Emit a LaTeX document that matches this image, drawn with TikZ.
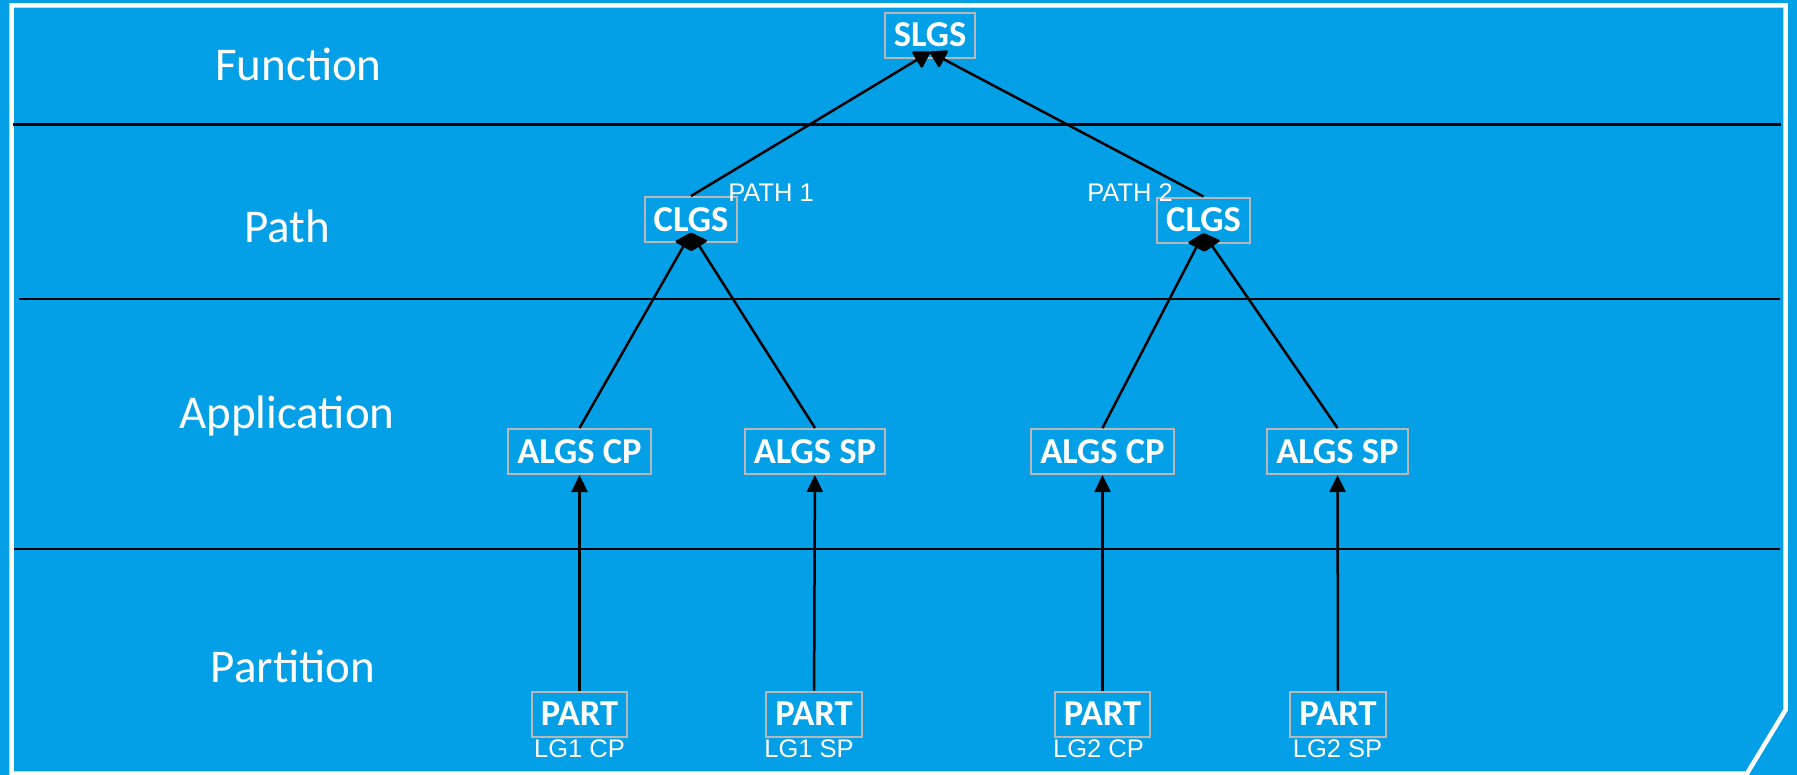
\documentclass[tikz,border=0pt]{standalone}
\usepackage{fontspec}
\setmainfont{Carlito}
\newfontfamily\arialfont{Liberation Sans}
\usetikzlibrary{arrows.meta}
\definecolor{bgblue}{RGB}{3,160,232}
\definecolor{boxgray}{RGB}{184,184,184}

\begin{document}
\begin{tikzpicture}[x=1bp,y=-1bp,
  box/.style={draw=boxgray, line width=2bp, text=white,
    font=\fontsize{36.5bp}{40bp}\selectfont\bfseries,
    minimum height=45bp, inner xsep=9bp, inner ysep=0pt,
    text height=23bp, text depth=0bp},
  layer/.style={text=white, font=\fontsize{47bp}{52bp}\selectfont,
    inner sep=0pt, text height=30bp, text depth=0bp},
  tag/.style={text=white, font=\arialfont\fontsize{25.5bp}{28bp}\selectfont,
    inner sep=0pt, text height=18bp, text depth=0bp},
  rule/.style={line width=2.7bp, black},
  arr/.style={line width=2.5bp, -{Triangle[length=17bp,width=16bp]}},
  joint/.style={line width=2.5bp,
    -{Triangle[length=17bp,width=20bp,round]}}]

% background and frame
\useasboundingbox (0,0) rectangle (1797,775);
\fill[bgblue] (0,0) rectangle (1797,775);
\draw[white, line width=4.5bp, line join=miter]
  (11.5,5.5) -- (1785.5,5.5) -- (1785.5,710) -- (1747,773.5) -- (11.5,773.5) -- cycle;

% layer separators
\draw[rule] (13,124.5) -- (1781,124.5);
\draw[rule] (19,299) -- (1780,299);
\draw[rule] (14,549) -- (1780,549);

% layer names
\node[layer] (lfun) at (298.5,66) {Function};
\node[layer] (lpath) at (287,227) {Path};
\node[layer] (lapp) at (287,413) {Application};
\node[layer] (lpart) at (293,667) {Partition};

% tree
\node[box] (s) at (930,35.5) {SLGS};
\node[box] (c1) at (691,219.5) {CLGS};
\node[box] (c2) at (1203.5,220) {CLGS};
\node[box] (a1) at (579.5,451.5) {ALGS CP};
\node[box] (a2) at (815,451.5) {ALGS SP};
\node[box] (a3) at (1102.5,451.5) {ALGS CP};
\node[box] (a4) at (1337.5,451.5) {ALGS SP};
\node[box] (p1) at (579.5,714) {PART};
\node[box] (p2) at (814,714) {PART};
\node[box] (p3) at (1102.5,714) {PART};
\node[box] (p4) at (1338,714) {PART};

% captions
\node[tag] (t1) at (771,192.5) {PATH 1};
\node[tag] (t2) at (1130,192.5) {PATH 2};
\node[tag] (g1) at (579.5,748.5) {LG1 CP};
\node[tag] (g2) at (809,748.5) {LG1 SP};
\node[tag] (g3) at (1098.5,748.5) {LG2 CP};
\node[tag] (g4) at (1337.5,748.5) {LG2 SP};

% connectors
\draw[arr] (p1) -- (a1);
\draw[arr] (p2) -- (a2);
\draw[arr] (p3) -- (a3);
\draw[arr] (p4) -- (a4);
\draw[joint] (a1.north) -- ([yshift=10bp]c1.south);
\draw[joint] (a2.north) -- ([yshift=10bp]c1.south);
\draw[joint] (a3.north) -- ([yshift=10bp]c2.south);
\draw[joint] (a4.north) -- ([yshift=10bp]c2.south);
\draw[joint] (c1.north) -- ([yshift=7bp]s.south);
\draw[joint] (c2.north) -- ([yshift=7bp]s.south);
\end{tikzpicture}
\end{document}
